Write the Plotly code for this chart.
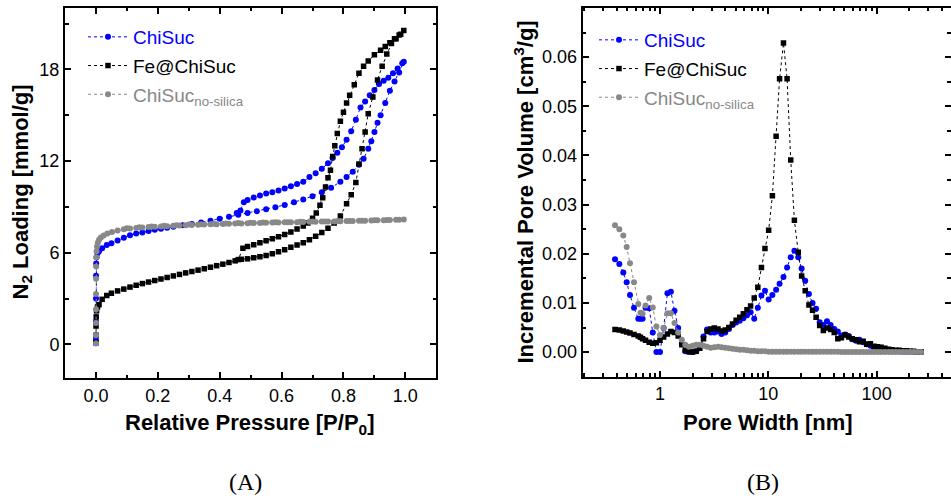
import plotly.graph_objects as go

# ---------------- Panel A: N2 isotherms ----------------
chisuc_p_ads = [0, 0.0001, 0.0002, 0.0004, 0.0008, 0.002, 0.005, 0.01, 0.02, 0.035,
                0.05, 0.07, 0.09, 0.11, 0.13, 0.15, 0.17, 0.19, 0.21, 0.23,
                0.25, 0.28, 0.31, 0.34, 0.37, 0.40, 0.43, 0.46, 0.49, 0.52,
                0.55, 0.58, 0.61, 0.64, 0.67, 0.70, 0.73, 0.76, 0.79, 0.81,
                0.83, 0.85, 0.865, 0.88, 0.89, 0.90, 0.91, 0.92, 0.935, 0.95,
                0.965, 0.98, 0.995]
chisuc_n_ads = [0.3, 1.5, 3.0, 4.5, 5.3, 5.7, 5.95, 6.1, 6.3, 6.5,
                6.62, 6.8, 6.98, 7.15, 7.25, 7.33, 7.42, 7.5, 7.57, 7.64,
                7.7, 7.79, 7.88, 7.98, 8.1, 8.22, 8.35, 8.48, 8.6, 8.72,
                8.85, 8.98, 9.12, 9.3, 9.48, 9.7, 9.95, 10.25, 10.65, 10.95,
                11.3, 11.75, 12.15, 12.8, 13.3, 13.9, 14.5, 15.0, 15.8, 16.6,
                17.2, 17.8, 18.5]
chisuc_p_des = [0.99, 0.975, 0.96, 0.945, 0.93, 0.915, 0.9, 0.885, 0.87, 0.855,
                0.84, 0.825, 0.81, 0.795, 0.78, 0.765, 0.75, 0.73, 0.71, 0.69,
                0.67, 0.65, 0.63, 0.61, 0.59, 0.57, 0.55, 0.53, 0.51, 0.49,
                0.478, 0.467, 0.455]
chisuc_n_des = [18.4, 18.05, 17.75, 17.45, 17.25, 17.05, 16.65, 16.3, 15.9, 15.5,
                14.7, 13.95, 13.4, 12.9, 12.55, 12.2, 11.85, 11.5, 11.2, 10.95,
                10.65, 10.5, 10.35, 10.2, 10.07, 9.95, 9.88, 9.75, 9.62, 9.45,
                9.31, 8.77, 8.6]

fe_p_ads = [0, 0.0001, 0.0003, 0.0008, 0.002, 0.005, 0.01, 0.02, 0.035, 0.05,
            0.07, 0.09, 0.11, 0.13, 0.15, 0.17, 0.19, 0.21, 0.23, 0.25,
            0.27, 0.29, 0.31, 0.33, 0.35, 0.37, 0.39, 0.41, 0.43, 0.45,
            0.47, 0.49, 0.51, 0.53, 0.55, 0.57, 0.59, 0.61, 0.63, 0.65,
            0.67, 0.69, 0.71, 0.73, 0.75, 0.77, 0.79, 0.81, 0.825, 0.84,
            0.85, 0.86, 0.87, 0.88, 0.895, 0.91, 0.925, 0.94, 0.955, 0.97,
            0.985]
fe_n_ads = [0.1, 0.6, 1.2, 1.8, 2.2, 2.45, 2.6, 2.95, 3.2, 3.35,
            3.5, 3.62, 3.75, 3.87, 3.98, 4.08, 4.18, 4.28, 4.38, 4.48,
            4.58, 4.68, 4.77, 4.86, 4.95, 5.05, 5.15, 5.25, 5.36, 5.47,
            5.57, 5.6, 5.67, 5.74, 5.82, 5.93, 6.06, 6.2, 6.35, 6.5,
            6.66, 6.85, 7.08, 7.32, 7.6, 7.95, 8.4, 9.2, 9.8, 10.6,
            11.8, 12.8, 13.9, 15.1, 16.2, 17.3, 18.2, 19.0, 19.7, 20.0,
            20.3]
fe_p_des = [0.995, 0.98, 0.965, 0.95, 0.935, 0.92, 0.9, 0.88, 0.865, 0.85,
            0.835, 0.82, 0.81, 0.8, 0.79, 0.78, 0.772, 0.765, 0.758, 0.75,
            0.742, 0.733, 0.724, 0.712, 0.7, 0.685, 0.67, 0.65, 0.63, 0.61,
            0.59, 0.57, 0.55, 0.53, 0.51, 0.49, 0.475, 0.46]
fe_n_des = [20.55, 20.25, 20.0, 19.75, 19.5, 19.25, 18.95, 18.55, 18.2, 17.75,
            17.0, 16.3, 15.8, 15.2, 14.6, 13.8, 13.0, 12.3, 11.4, 10.9,
            10.3, 9.6, 9.1, 8.6, 8.25, 7.95, 7.75, 7.55, 7.35, 7.2,
            7.05, 6.92, 6.78, 6.65, 6.52, 6.4, 6.3, 5.55]

ns_p_ads = [0, 0.00002, 0.00005, 0.0001, 0.0002, 0.0004, 0.0007, 0.0012, 0.002, 0.0035,
            0.006, 0.01, 0.016, 0.025, 0.037, 0.052, 0.07, 0.09,
            0.11, 0.13, 0.15, 0.17, 0.19, 0.21, 0.23, 0.25, 0.27, 0.29,
            0.31, 0.33, 0.35, 0.37, 0.39, 0.41, 0.43, 0.45, 0.47, 0.49,
            0.51, 0.53, 0.55, 0.57, 0.59, 0.61, 0.63, 0.65, 0.67, 0.69,
            0.71, 0.73, 0.75, 0.77, 0.79, 0.81, 0.83, 0.85, 0.87, 0.89,
            0.91, 0.93, 0.95, 0.97, 0.995]
ns_n_ads = [0.05, 0.6, 1.4, 2.3, 3.3, 4.3, 5.1, 5.7, 6.1, 6.4,
            6.65, 6.85, 7.0, 7.12, 7.25, 7.35, 7.45, 7.53,
            7.58, 7.62, 7.65, 7.68, 7.7, 7.72, 7.74, 7.76, 7.78, 7.8,
            7.81, 7.83, 7.84, 7.86, 7.87, 7.88, 7.9, 7.91, 7.92, 7.93,
            7.94, 7.95, 7.96, 7.97, 7.98, 7.99, 8.0, 8.0, 8.01, 8.02,
            8.03, 8.04, 8.05, 8.05, 8.06, 8.07, 8.08, 8.09, 8.1, 8.11,
            8.12, 8.13, 8.14, 8.15, 8.17]
ns_p_des = [0.98, 0.94, 0.9, 0.86, 0.82, 0.78, 0.74, 0.7, 0.66, 0.62,
            0.58, 0.54, 0.5, 0.46, 0.42, 0.38, 0.34, 0.3, 0.26, 0.22,
            0.18, 0.14, 0.1]
ns_n_des = [8.16, 8.14, 8.12, 8.1, 8.08, 8.07, 8.05, 8.04, 8.02, 8.0,
            7.99, 7.97, 7.96, 7.94, 7.92, 7.9, 7.87, 7.84, 7.8, 7.76,
            7.72, 7.66, 7.6]

# ---------------- Panel B: pore size distribution ----------------
pore_width = [0.384, 0.421, 0.458, 0.492, 0.528, 0.575, 0.630, 0.660, 0.690, 0.735,
              0.794, 0.857, 0.926, 1.00, 1.08, 1.17, 1.26, 1.36, 1.47, 1.59,
              1.71, 1.85, 2.00, 2.16, 2.33, 2.52, 2.72, 2.94, 3.17, 3.43,
              3.70, 4.00, 4.32, 4.67, 5.04, 5.44, 5.88, 6.35, 6.86, 7.41,
              8.00, 8.64, 9.31, 10.07, 10.9, 11.8, 12.7, 13.8, 14.9, 16.1,
              17.4, 18.9, 20.3, 21.9, 23.7, 25.6, 27.6, 29.8, 32.2, 34.8,
              37.6, 40.6, 43.8, 47.3, 51.1, 55.2, 59.6, 64.4, 69.5, 75.1,
              81.1, 87.6, 94.6, 102, 110, 119, 129, 139, 150, 162,
              175, 189, 204, 220, 238, 257]
chisuc_dv = [0.0189, 0.0179, 0.0162, 0.0142, 0.0116, 0.0090, 0.0068, 0.0068, 0.0068, 0.0090,
             0.0089, 0.0040, 0.0000, 0.0000, 0.0049, 0.0120, 0.0123, 0.0084, 0.0049, 0.0017,
             0.0002, 0.0001, 0.0000, 0.0002, 0.0010, 0.0032, 0.0046, 0.0040, 0.0040, 0.0042,
             0.0037, 0.0040, 0.0047, 0.0055, 0.0060, 0.0064, 0.0069, 0.0075, 0.0081, 0.0068,
             0.0090, 0.0115, 0.0125, 0.0107, 0.0116, 0.0127, 0.0139, 0.0153, 0.0172, 0.0193,
             0.0206, 0.0193, 0.0170, 0.0145, 0.0118, 0.0100, 0.0088, 0.0061, 0.0055, 0.0063,
             0.0055, 0.0047, 0.0042, 0.0034, 0.0036, 0.0033, 0.0026, 0.0023, 0.0025, 0.0020,
             0.0016, 0.0013, 0.0010, 0.0008, 0.0006, 0.0005, 0.0004, 0.0003, 0.0002, 0.0002,
             0.0001, 0.0001, 0.0001, 0.0000, 0.0000, 0.0000]
fe_dv = [0.0046, 0.0045, 0.0043, 0.0041, 0.0039, 0.0036, 0.0033, 0.0030, 0.0027, 0.0024,
         0.0020, 0.0018, 0.0019, 0.0024, 0.0031, 0.0037, 0.0042, 0.0040, 0.0033, 0.0015,
         0.0004, 0.0001, 0.0000, 0.0002, 0.0008, 0.0027, 0.0042, 0.0047, 0.0049, 0.0047,
         0.0043, 0.0045, 0.0050, 0.0057, 0.0065, 0.0071, 0.0078, 0.0086, 0.0094, 0.0110,
         0.0132, 0.0172, 0.0211, 0.0248, 0.0318, 0.0439, 0.0556, 0.0629, 0.0556, 0.0391,
         0.0268, 0.0203, 0.0155, 0.0125, 0.0096, 0.0085, 0.0071, 0.0054, 0.0044, 0.0049,
         0.0046, 0.0040, 0.0027, 0.0029, 0.0035, 0.0031, 0.0027, 0.0025, 0.0021, 0.0022,
         0.0016, 0.0017, 0.0012, 0.0011, 0.0010, 0.0008, 0.0006, 0.0005, 0.0004, 0.0004,
         0.0003, 0.0003, 0.0002, 0.0002, 0.0001, 0.0001]
ns_dv = [0.0258, 0.0250, 0.0237, 0.0214, 0.0181, 0.0142, 0.0098, 0.0080, 0.0078, 0.0095,
         0.0110, 0.0091, 0.0052, 0.0035, 0.0049, 0.0079, 0.0079, 0.0059, 0.0040, 0.0025,
         0.0015, 0.0011, 0.0013, 0.0015, 0.0015, 0.0013, 0.0011, 0.0009, 0.0010, 0.0011,
         0.0010, 0.0009, 0.0008, 0.0007, 0.0006, 0.0005, 0.0005, 0.0004, 0.0003, 0.0003,
         0.0002, 0.0002, 0.0002, 0.0001, 0.0001, 0.0001, 0.0001, 0.0001, 0.0001, 0.0001,
         0.0001, 0.0001, 0.0001, 0.0001, 0.0001, 0.0001, 0.0001, 0.0001, 0.0001, 0.0001,
         0.0001, 0.0001, 0.0001, 0.0000, 0.0000, 0.0000, 0.0000, 0.0000, 0.0000, 0.0000,
         0.0000, 0.0000, 0.0000, 0.0000, 0.0000, 0.0000, 0.0000, 0.0000, 0.0000, 0.0000,
         0.0000, 0.0000, 0.0000, 0.0000, 0.0000, 0.0000]

series_names = ["ChiSuc", "Fe@ChiSuc", "ChiSuc<sub>no-silica</sub>"]
BLUE, BLACK, GREY = "#0000FF", "#000000", "#888888"
colors = [BLUE, BLACK, GREY]
symbols = ["circle", "square", "circle"]
msizes = [6, 5.5, 6]

FONT = "Liberation Sans"

iso_x = [chisuc_p_ads + chisuc_p_des, fe_p_ads + fe_p_des, ns_p_ads + ns_p_des]
iso_y = [chisuc_n_ads + chisuc_n_des, fe_n_ads + fe_n_des, ns_n_ads + ns_n_des]
psd_y = [chisuc_dv, fe_dv, ns_dv]

fig = go.Figure()
for i in range(3):
    label = '<span style="color:%s">%s</span>' % (colors[i], series_names[i])
    fig.add_trace(go.Scatter(
        x=iso_x[i], y=iso_y[i], mode="lines+markers", name=label,
        line=dict(color=colors[i], width=1, dash="dot"),
        marker=dict(color=colors[i], symbol=symbols[i], size=msizes[i]),
        xaxis="x", yaxis="y", legend="legend", legendgroup="a%d" % i))
for i in range(3):
    label = '<span style="color:%s">%s</span>' % (colors[i], series_names[i])
    fig.add_trace(go.Scatter(
        x=pore_width, y=psd_y[i], mode="lines+markers", name=label,
        line=dict(color=colors[i], width=1, dash="dot"),
        marker=dict(color=colors[i], symbol=symbols[i], size=msizes[i]),
        xaxis="x2", yaxis="y2", legend="legend2", legendgroup="b%d" % i))

W, H = 951, 501


def fx(px):
    return px / W


def fy(py):
    return 1 - py / H


axis_common = dict(showline=True, linecolor="black", linewidth=2, mirror="ticks",
                   ticks="inside", ticklen=6, tickwidth=1.5, tickcolor="black",
                   showgrid=False, zeroline=False, automargin=False,
                   tickfont=dict(family=FONT, size=18, color="black"))
minor_common = dict(ticks="inside", ticklen=3.5, tickwidth=1.5, tickcolor="black")

fig.update_layout(
    width=W, height=H, margin=dict(l=0, r=0, t=0, b=0, autoexpand=False),
    paper_bgcolor="white", plot_bgcolor="white",
    font=dict(family=FONT, color="black"),
    xaxis=dict(domain=[fx(65), fx(436.3)], anchor="y", range=[-0.1, 1.1],
               tick0=0, dtick=0.2, tickformat=".1f",
               minor=dict(dtick=0.1, **minor_common), **axis_common),
    yaxis=dict(domain=[fy(378), fy(7.5)], anchor="x", range=[-2.2, 22.05],
               tick0=0, dtick=6, minor=dict(dtick=3, **minor_common), **axis_common),
    xaxis2=dict(domain=[fx(582.7), fx(950.5)], anchor="y2", type="log",
                range=[-0.714, 2.682], tick0=0, dtick=1,
                minor=dict(dtick="D1", **minor_common), **axis_common),
    yaxis2=dict(domain=[fy(376.7), fy(7.5)], anchor="x2",
                range=[-0.005, 0.0701], tick0=0, dtick=0.01, tickformat=".2f",
                minor=dict(dtick=0.005, **minor_common), **axis_common),
    legend=dict(x=fx(83), y=fy(18), xanchor="left", yanchor="top",
                bgcolor="rgba(0,0,0,0)", font=dict(family=FONT, size=19),
                traceorder="grouped", tracegroupgap=1, itemwidth=40),
    legend2=dict(x=fx(594), y=fy(21), xanchor="left", yanchor="top",
                 bgcolor="rgba(0,0,0,0)", font=dict(family=FONT, size=19),
                 traceorder="grouped", tracegroupgap=1, itemwidth=40),
)

title_font = dict(family=FONT, size=22, color="black", weight="bold")
annotations = [
    dict(text="Relative Pressure [P/P<sub>0</sub>]", x=fx(250), y=fy(424),
         xanchor="center", yanchor="middle", font=title_font),
    dict(text="N<sub>2</sub> Loading [mmol/g]", x=fx(21), y=fy(192.5), textangle=-90,
         xanchor="center", yanchor="middle", font=title_font),
    dict(text="Pore Width [nm]", x=fx(768), y=fy(422),
         xanchor="center", yanchor="middle", font=title_font),
    dict(text="Incremental Pore Volume [cm<sup>3</sup>/g]", x=fx(523), y=fy(192.5),
         textangle=-90, xanchor="center", yanchor="middle", font=title_font),
    dict(text="(A)", x=fx(245), y=fy(482), xanchor="center", yanchor="middle",
         font=dict(family="Liberation Serif", size=24, color="black")),
    dict(text="(B)", x=fx(763), y=fy(482), xanchor="center", yanchor="middle",
         font=dict(family="Liberation Serif", size=24, color="black")),
]
for a in annotations:
    a.update(xref="paper", yref="paper", showarrow=False)
fig.update_layout(annotations=annotations)

# remove the browser's default 8px page margin so the figure fills the window exactly
fig.write_html("out.html", config={"displayModeBar": False},
               post_script="document.body.style.margin='0px';")
